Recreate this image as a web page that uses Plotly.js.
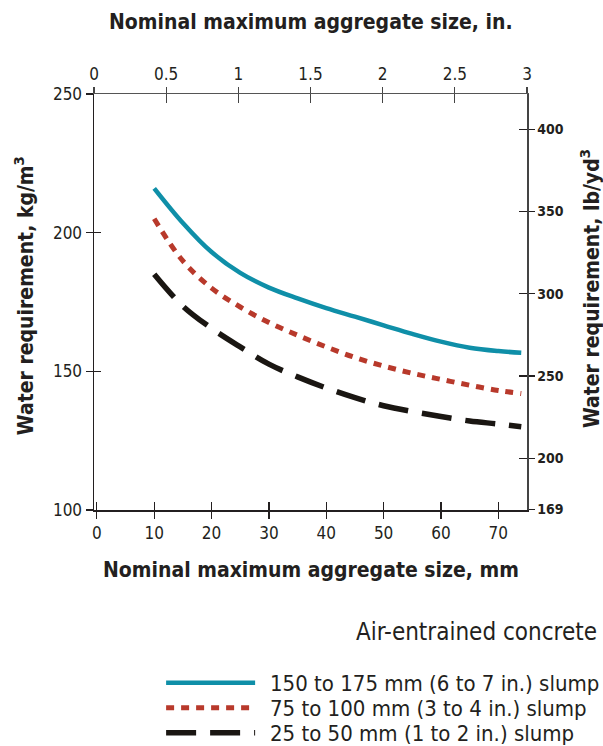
<!DOCTYPE html>
<html>
<head>
<meta charset="utf-8">
<script src="https://cdn.plot.ly/plotly-3.0.1.min.js"></script>
<style>html,body{margin:0;padding:0;background:#fff;}#chart{width:603px;height:746px;}</style>
</head>
<body>
<div id="chart"></div>
<script>
// ---- data ----
const sizesMm = [10, 15, 20, 25, 30, 35, 40, 45, 50, 55, 60, 65, 70, 74];
const slump150to175 = [216, 203.5, 193, 185.5, 180.2, 176.3, 172.8, 169.7, 166.6, 163.5, 160.7, 158.5, 157.3, 156.7];
const slump75to100 = [205, 189.8, 180, 173.2, 167.6, 163, 158.8, 155, 151.9, 149.3, 147.1, 145, 143.1, 142];
const slump25to50 = [185, 173.5, 165.5, 158.8, 152.6, 148, 144, 140.5, 137.6, 135.5, 133.7, 132.1, 131, 130];
const seriesNames = [
  "150 to 175 mm (6 to 7 in.) slump",
  "75 to 100 mm (3 to 4 in.) slump",
  "25 to 50 mm (1 to 2 in.) slump"
];
const mmTicks = [0, 10, 20, 30, 40, 50, 60, 70];
const inTicks = [0, 0.5, 1, 1.5, 2, 2.5, 3];
const inTickText = ["0", "0.5", "1", "1.5", "2", "2.5", "3"];
const kgTicks = [100, 150, 200, 250];
const lbTicks = [169, 200, 250, 300, 350, 400];

const FONT = "'Liberation Sans Narrow', 'DejaVu Sans Condensed', 'Arial Narrow', sans-serif";
const INK = "#231f20";
const kgToLb = 1.6856;
const kgRange = [100, 250];
const lbRange = [kgRange[0] * kgToLb, kgRange[1] * kgToLb];
const mmRange = [-0.5, 75];
const inRange = [0, 3];
const LEGEND_PAD = "\u2002";

const traces = [
  {x: sizesMm, y: slump150to175, name: LEGEND_PAD + seriesNames[0], mode: "lines", legend: "legend",
   line: {color: "#0f8fa8", width: 4.5, shape: "spline", smoothing: 1}},
  {x: sizesMm, y: slump75to100, name: LEGEND_PAD + seriesNames[1], mode: "lines", legend: "legend2",
   line: {color: "#b8392b", width: 5, dash: "8px,7px", shape: "spline", smoothing: 1}},
  {x: sizesMm, y: slump25to50, name: LEGEND_PAD + seriesNames[2], mode: "lines", legend: "legend3",
   line: {color: "#1a1612", width: 5.5, dash: "30px,14px", shape: "spline", smoothing: 1}},
  // helper empty traces so that the secondary / tick-duplicate axes are drawn
  {x: [], y: [], xaxis: "x2", yaxis: "y2", showlegend: false, hoverinfo: "skip"},
  {x: [], y: [], xaxis: "x3", yaxis: "y3", showlegend: false, hoverinfo: "skip"},
  {x: [], y: [], xaxis: "x4", yaxis: "y4", showlegend: false, hoverinfo: "skip"}
];

const tickFont = {family: FONT, size: 17, color: INK};
const hiddenLabels = {showticklabels: false, showgrid: false, zeroline: false};
function legendAt(yPaper) {
  return {
    x: 0.155, xanchor: "left", y: yPaper, yanchor: "middle",
    font: {family: FONT, size: 22, color: INK},
    itemwidth: 89, bgcolor: "rgba(0,0,0,0)", borderwidth: 0
  };
}

const layout = {
  width: 603, height: 746,
  margin: {l: 94, r: 76, t: 94, b: 236, autoexpand: false},
  paper_bgcolor: "#fff", plot_bgcolor: "#fff",
  font: {family: FONT, color: INK},
  showlegend: true,
  legend: legendAt(-0.416),
  legend2: legendAt(-0.476),
  legend3: legendAt(-0.536),
  xaxis: {range: mmRange, tickvals: mmTicks, ticks: "outside", ticklen: 7, tickwidth: 1.2,
          tickcolor: INK, showline: true, linecolor: INK, linewidth: 1.5,
          showgrid: false, zeroline: false, tickfont: tickFont, anchor: "y", fixedrange: true},
  yaxis: {range: kgRange, tickvals: kgTicks, ticks: "outside", ticklen: 7, tickwidth: 1.2,
          tickcolor: INK, showline: true, linecolor: INK, linewidth: 1.5,
          showgrid: false, zeroline: false, tickfont: tickFont, anchor: "x", fixedrange: true},
  xaxis2: {overlaying: "x", side: "top", anchor: "y2", range: inRange, tickvals: inTicks,
           ticktext: inTickText, ticks: "outside", ticklen: 6, tickwidth: 1.2, tickcolor: "#444",
           showline: true, linecolor: "#555", linewidth: 1.5, showgrid: false, zeroline: false,
           tickfont: tickFont, fixedrange: true},
  yaxis2: {overlaying: "y", side: "right", anchor: "x2", range: lbRange, tickvals: lbTicks,
           ticks: "outside", ticklen: 6, tickwidth: 1.2, tickcolor: INK, showline: true,
           linecolor: "#444", linewidth: 1.5, showgrid: false, zeroline: false,
           tickfont: {family: FONT, size: 14, color: INK, weight: "bold"}, fixedrange: true},
  xaxis3: Object.assign({overlaying: "x", side: "bottom", anchor: "y3", range: mmRange, tickvals: mmTicks,
           ticks: "inside", ticklen: 8, tickwidth: 1.2, tickcolor: INK, showline: false, fixedrange: true}, hiddenLabels),
  yaxis3: Object.assign({overlaying: "y", side: "left", anchor: "x3", range: kgRange, tickvals: kgTicks,
           ticks: "inside", ticklen: 7, tickwidth: 1.2, tickcolor: INK, showline: false, fixedrange: true}, hiddenLabels),
  xaxis4: Object.assign({overlaying: "x", side: "top", anchor: "y4", range: inRange, tickvals: inTicks,
           ticks: "inside", ticklen: 9, tickwidth: 1.2, tickcolor: "#444", showline: false, fixedrange: true}, hiddenLabels),
  yaxis4: Object.assign({overlaying: "y", side: "right", anchor: "x4", range: lbRange, tickvals: lbTicks,
           ticks: "inside", ticklen: 8, tickwidth: 1.2, tickcolor: INK, showline: false, fixedrange: true}, hiddenLabels),
  annotations: [
    {text: "<b>Nominal maximum aggregate size, in.</b>", xref: "paper", yref: "paper",
     x: 0.5, y: 1, yshift: 72, xanchor: "center", yanchor: "middle", showarrow: false,
     font: {family: FONT, size: 21, color: INK}},
    {text: "<b>Nominal maximum aggregate size, mm</b>", xref: "paper", yref: "paper",
     x: 0.5, y: 0, yshift: -60, xanchor: "center", yanchor: "middle", showarrow: false,
     font: {family: FONT, size: 21, color: INK}},
    {text: "<b>Water requirement, kg/m<sup>3</sup></b>", xref: "paper", yref: "paper",
     x: 0, xshift: -70, y: 0.514, xanchor: "center", yanchor: "middle", textangle: -90, showarrow: false,
     font: {family: FONT, size: 21, color: INK}},
    {text: "<b>Water requirement, lb/yd<sup>3</sup></b>", xref: "paper", yref: "paper",
     x: 1, xshift: 63, y: 0.531, xanchor: "center", yanchor: "middle", textangle: -90, showarrow: false,
     font: {family: FONT, size: 21, color: INK}},
    {text: "Air-entrained concrete", xref: "paper", yref: "paper",
     x: 1, xshift: 72, y: -0.293, xanchor: "right", yanchor: "middle", showarrow: false,
     font: {family: FONT, size: 24, color: INK}}
  ]
};

Plotly.newPlot("chart", traces, layout, {displayModeBar: false, staticPlot: true});
</script>
</body>
</html>
